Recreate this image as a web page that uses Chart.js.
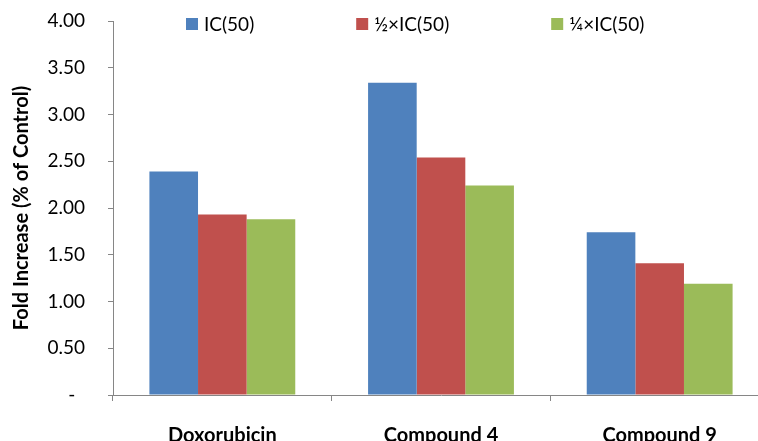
<!DOCTYPE html>
<html>
<head>
<meta charset="utf-8">
<script src="https://cdn.jsdelivr.net/npm/chart.js@4/dist/chart.umd.min.js"></script>
<style>
  html, body { margin: 0; padding: 0; background: #fff; overflow: hidden; }
  #wrap { width: 776px; height: 441px; }
</style>
</head>
<body>
<div id="wrap"><canvas id="c" width="776" height="441"></canvas></div>
<script>
// Fold increase relative to control, per compound and dose
const categories = ['Doxorubicin', 'Compound 4', 'Compound 9'];
const seriesNames = ['IC(50)', '\u00BD\u00D7IC(50)', '\u00BC\u00D7IC(50)'];
const ic50Full    = [2.39, 3.34, 1.74];
const ic50Half    = [1.93, 2.54, 1.41];
const ic50Quarter = [1.88, 2.24, 1.19];
const seriesColors = ['#4F81BD', '#C0504D', '#9BBB59'];

const yMin = 0, yMax = 4, yStep = 0.5;
const yTitle = 'Fold Increase (% of Control)';

const FONT = 'Lato, "Open Sans", sans-serif';
const axisGrey = '#868686';

// Legend drawn as a single row near the top of the plot
const topLegend = {
  id: 'topLegend',
  afterDraw(chart) {
    const ctx = chart.ctx;
    const area = chart.chartArea;
    ctx.save();
    ctx.font = '19px ' + FONT;
    ctx.textBaseline = 'middle';
    ctx.textAlign = 'left';
    const box = 12, gapText = 6, gapItem = 102;
    let x = area.left + 73;
    const y = area.top + 3;
    chart.data.datasets.forEach(ds => {
      ctx.fillStyle = ds.backgroundColor;
      ctx.fillRect(x, y - box / 2, box, box);
      ctx.fillStyle = '#000';
      ctx.fillText(ds.label, x + box + gapText, y + 1);
      x += box + gapText + ctx.measureText(ds.label).width + gapItem;
    });
    ctx.restore();
  }
};

const values = [ic50Full, ic50Half, ic50Quarter];

new Chart(document.getElementById('c'), {
  type: 'bar',
  data: {
    labels: categories,
    datasets: values.map((v, i) => ({
      label: seriesNames[i],
      data: v,
      backgroundColor: seriesColors[i],
      borderWidth: 0,
      categoryPercentage: 0.667,
      barPercentage: 1.0
    }))
  },
  options: {
    responsive: false,
    animation: false,
    layout: { padding: { top: 21, right: 7, left: 0, bottom: 0 } },
    plugins: {
      legend: { display: false },
      tooltip: { enabled: false }
    },
    scales: {
      x: {
        grid: { offset: true, drawOnChartArea: false, drawTicks: true, tickLength: 6, color: axisGrey },
        border: { color: axisGrey, width: 1 },
        ticks: {
          color: '#000',
          padding: 23,
          font: { family: FONT, size: 20, weight: 'bold' },
          maxRotation: 0
        },
        afterFit(s) { s.height = 46; }
      },
      y: {
        min: yMin,
        max: yMax,
        grid: { drawOnChartArea: false, drawTicks: true, tickLength: 5, color: axisGrey },
        border: { color: axisGrey, width: 1 },
        ticks: {
          stepSize: yStep,
          color: '#000',
          padding: 23,
          font: { family: FONT, size: 19 },
          callback: v => (v === 0 ? '-  ' : v.toFixed(2))
        },
        title: {
          display: true,
          text: yTitle,
          color: '#000',
          font: { family: FONT, size: 20, weight: 'bold' },
          padding: { top: 10, bottom: 0 }
        },
        afterFit(s) {
          s.width = 113;
          s.paddingTop = 0;
          s.paddingBottom = 0;
        }
      }
    }
  },
  plugins: [topLegend]
});
</script>
</body>
</html>
